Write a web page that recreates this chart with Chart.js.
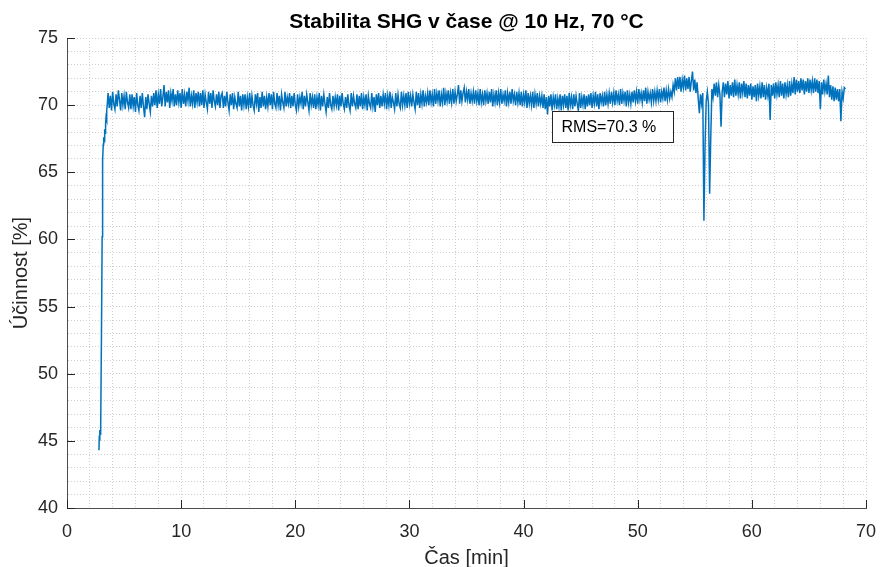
<!DOCTYPE html>
<html><head><meta charset="utf-8">
<script src="https://cdn.jsdelivr.net/npm/chart.js@4"></script>
<style>html,body{margin:0;padding:0;background:#fff}#wrap{width:880px;height:567px}</style>
</head><body><div id="wrap"><canvas id="c" width="880" height="567"></canvas></div>
<script>
const chartTitle = 'Stabilita SHG v čase @ 10 Hz, 70 °C';
const xTitle = 'Čas [min]';
const yTitle = 'Účinnost [%]';
const rmsLabel = 'RMS=70.3 %';
const xTickLabels = [0, 10, 20, 30, 40, 50, 60, 70];
const yTickLabels = [40, 45, 50, 55, 60, 65, 70, 75];

// start-up ramp (time in min, efficiency in %)
const startTime = [2.80, 2.83, 2.86, 2.89, 2.92, 2.95, 3.02, 3.08, 3.10, 3.14, 3.18, 3.22, 3.26, 3.30, 3.34, 3.38, 3.42, 3.46, 3.50, 3.54];
const startEff  = [44.3, 45.4, 45.0, 45.8, 45.5, 46.0, 53.0, 60.2, 60.7, 65.9, 67.1, 67.6, 67.3, 68.2, 67.9, 68.6, 69.1, 68.9, 69.6, 70.2];

// steady-state record, sampled every 0.1 min from 3.6 min
const sampleStart = 3.6;
const sampleStep = 0.1;
const efficiency = [
70.9,69.8,70.7,69.6,71.0,70.1,69.7,70.8,69.9,71.1,70.4,69.6,70.9,70.0,70.7,69.7,71.0,70.2,69.8,70.8,
69.7,70.8,69.9,70.6,69.5,70.9,70.0,69.6,70.7,69.8,70.9,69.9,69.1,70.6,69.7,70.8,70.1,69.5,70.7,69.9,
70.9,70.0,71.1,69.8,70.8,70.1,71.2,69.9,70.6,71.5,69.9,71.0,70.2,71.1,69.8,70.9,70.3,71.2,69.9,70.8,
70.0,71.1,70.2,70.9,69.8,71.2,70.1,70.8,69.9,71.0,70.3,71.3,69.9,70.7,70.1,71.1,69.8,70.9,70.2,71.0,
69.9,70.9,70.0,71.1,69.8,70.8,70.2,69.7,71.0,70.1,70.9,69.8,71.1,70.3,69.9,70.8,70.0,71.0,69.8,70.7,
70.9,69.8,70.7,69.9,71.0,70.2,69.6,70.8,70.0,70.9,69.7,70.6,70.1,69.8,71.0,69.9,70.7,69.6,70.8,70.0,
70.8,69.7,70.6,69.9,70.9,69.8,70.7,70.0,69.6,70.8,70.1,70.9,69.5,70.6,69.8,71.0,69.9,70.7,69.7,70.6,
69.9,70.9,70.0,70.8,69.7,71.0,70.1,69.8,70.9,70.0,70.7,69.6,70.8,70.2,69.8,71.0,69.9,70.6,70.1,70.9,
69.8,70.7,69.9,70.9,70.0,69.6,70.8,69.9,70.6,70.1,71.0,69.7,70.7,69.9,70.8,70.2,69.6,70.9,70.0,70.6,
69.8,70.8,69.7,70.6,70.0,70.9,69.6,70.7,69.9,70.8,70.1,69.5,70.6,69.8,70.9,70.0,69.7,70.7,69.9,70.6,
70.0,70.8,69.6,70.7,69.9,70.9,70.1,69.7,70.6,69.8,70.8,70.0,69.6,70.9,69.9,70.7,70.1,69.8,70.8,69.7,
70.7,69.9,70.9,69.7,70.6,70.0,70.8,69.6,70.7,70.1,69.8,70.9,69.9,70.6,69.5,70.8,70.0,70.9,69.8,70.7,
69.9,70.8,70.1,70.9,69.7,70.7,70.0,71.0,69.8,70.6,70.2,69.7,70.9,69.9,70.8,70.1,69.8,71.0,70.0,70.7,
70.0,70.9,69.8,71.0,70.1,70.7,69.9,70.8,70.2,69.7,71.0,70.0,70.9,69.8,70.8,70.1,71.1,69.9,70.7,70.2,
70.9,70.0,71.1,70.2,70.8,69.9,71.2,70.1,70.9,70.3,71.1,69.9,70.8,70.2,71.3,70.0,70.9,70.3,71.1,70.1,
70.9,70.2,71.2,70.1,71.0,70.3,70.8,71.5,70.1,71.1,70.3,70.9,71.3,70.2,71.0,70.4,71.2,70.1,70.9,70.3,
71.0,70.1,71.1,70.3,70.9,70.0,71.2,70.2,70.8,70.0,71.1,70.3,70.9,70.1,71.0,70.2,71.2,69.9,70.8,70.2,
71.1,70.0,70.9,70.2,71.2,70.1,70.8,70.3,71.1,69.9,70.9,70.2,71.0,70.1,71.2,70.3,70.8,70.0,71.0,70.2,
70.9,70.0,71.0,69.9,70.8,70.2,71.1,69.8,70.9,70.1,70.7,70.0,71.0,69.8,70.8,70.1,70.9,69.9,70.7,70.1,
70.7,69.8,70.8,69.7,70.6,69.3,70.7,69.9,70.8,69.6,70.6,70.0,70.8,69.7,70.5,69.9,70.8,69.6,70.7,70.0,
70.8,69.8,70.7,69.6,70.9,70.0,70.6,69.7,70.8,69.9,70.7,70.1,69.6,70.9,69.8,70.6,70.0,70.8,69.7,70.7,
69.9,70.8,70.0,70.9,69.8,70.7,70.1,71.0,69.9,70.8,69.7,70.9,70.2,70.7,69.9,71.0,70.0,70.8,70.1,70.9,
70.1,71.0,70.2,70.9,70.0,71.1,70.3,70.8,70.0,71.2,70.1,70.9,70.3,71.0,69.9,71.1,70.2,70.8,70.1,71.0,
70.2,71.1,70.3,71.0,70.1,71.2,70.4,70.9,70.2,71.1,70.3,71.3,70.1,71.0,70.4,70.9,70.2,71.2,70.3,71.0,
70.3,71.1,70.4,71.2,70.2,71.0,70.5,71.3,70.3,71.1,70.4,71.2,70.5,71.0,70.6,71.5,71.0,72.0,71.1,72.1,
71.2,72.1,71.0,71.9,71.3,72.2,71.1,72.0,71.2,72.1,71.0,71.8,72.5,71.1,71.9,70.9,71.7,70.5,69.4,70.8,
70.1,70.9,61.4,67.0,70.3,71.0,70.1,63.4,67.6,71.2,70.6,71.6,70.7,71.7,70.6,71.5,70.8,68.4,71.0,71.7,
70.6,71.6,70.8,71.8,70.5,71.5,70.7,71.7,70.6,71.9,70.7,71.5,70.8,71.7,70.5,71.6,70.9,71.8,70.6,71.6,
70.5,71.5,70.7,71.6,70.4,71.4,70.6,71.5,70.3,71.6,70.7,71.4,70.5,71.7,70.6,71.5,70.4,71.3,70.7,71.6,
68.9,71.5,70.7,71.6,70.5,71.7,70.8,71.5,70.6,71.8,70.7,71.6,70.5,71.7,70.8,71.5,70.6,71.8,70.7,71.6,
70.9,72.1,70.8,71.9,71.0,71.8,70.9,72.0,71.1,71.9,70.8,71.8,71.0,72.0,70.9,71.9,71.1,71.8,70.9,72.0,
71.0,71.9,70.9,71.8,69.7,71.7,70.8,71.9,71.0,71.6,70.8,72.2,70.6,71.5,70.4,71.4,70.3,71.3,70.4,71.2,
70.3,71.2,68.8,71.0,70.5,71.3,71.2
];

// text box corners in data units (min, %)
const rmsBoxMin = [42.5, 67.25];
const rmsBoxMax = [53.1, 69.55];

const FONT = '"Liberation Sans", Arial, Helvetica, sans-serif';
const AX = '#262626';

const points = startTime.map((t, i) => ({x: t, y: startEff[i]}))
  .concat(efficiency.map((v, i) => ({x: Math.round((sampleStart + i * sampleStep) * 100) / 100, y: v})));

const decor = {
  id: 'decor',
  afterDraw(chart) {
    const {ctx, chartArea: a, scales: {x, y}} = chart;
    ctx.save();
    // inward major ticks
    ctx.strokeStyle = AX; ctx.lineWidth = 1;
    ctx.beginPath();
    xTickLabels.forEach(v => { const px = Math.round(x.getPixelForValue(v)) + 0.5; ctx.moveTo(px, a.bottom); ctx.lineTo(px, a.bottom - 8); });
    yTickLabels.forEach(v => { const py = Math.round(y.getPixelForValue(v)) + 0.5; ctx.moveTo(a.left, py); ctx.lineTo(a.left + 8, py); });
    ctx.stroke();
    // RMS text box
    const bx0 = Math.round(x.getPixelForValue(rmsBoxMin[0])) + 0.5;
    const bx1 = Math.round(x.getPixelForValue(rmsBoxMax[0])) + 0.5;
    const by0 = Math.round(y.getPixelForValue(rmsBoxMax[1])) + 0.5;
    const by1 = Math.round(y.getPixelForValue(rmsBoxMin[1])) + 0.5;
    ctx.fillStyle = '#fff';
    ctx.fillRect(bx0, by0, bx1 - bx0, by1 - by0);
    ctx.strokeStyle = AX; ctx.lineWidth = 1;
    ctx.strokeRect(bx0, by0, bx1 - bx0, by1 - by0);
    ctx.fillStyle = '#000';
    ctx.font = '16px ' + FONT;
    ctx.textAlign = 'left'; ctx.textBaseline = 'middle';
    ctx.fillText(rmsLabel, bx0 + 9, (by0 + by1) / 2 + 1);
    // title
    ctx.font = 'bold 21px ' + FONT;
    ctx.textAlign = 'center';
    ctx.fillStyle = '#000';
    ctx.fillText(chartTitle, (a.left + a.right) / 2, 22);
    ctx.restore();
  }
};

const gridColor = c => '#cfcfcf';

new Chart(document.getElementById('c'), {
  type: 'line',
  data: {
    datasets: [{
      data: points,
      borderColor: '#0072BD',
      borderWidth: 1.5,
      pointRadius: 0,
      fill: false,
      tension: 0
    }]
  },
  options: {
    responsive: false,
    animation: false,
    devicePixelRatio: 1,
    normalized: true,
    layout: {padding: {left: 0, right: 14, top: 38, bottom: 0}},
    plugins: {legend: {display: false}, tooltip: {enabled: false}, title: {display: false}},
    scales: {
      x: {
        type: 'linear', min: 0, max: 70,
        afterFit: s => { s.height = 59; s.paddingLeft = 0; s.paddingRight = 0; },
        ticks: {
          stepSize: 2, maxTicksLimit: 100, autoSkip: false, maxRotation: 0, minRotation: 0,
          padding: 13, color: AX, font: {family: FONT, size: 18},
          callback: v => (xTickLabels.includes(v) ? String(v) : '')
        },
        grid: {color: gridColor, lineWidth: 1, drawTicks: false},
        border: {display: true, color: '#4d4d4d', width: 1, dash: [1, 2]},
        title: {display: true, text: xTitle, color: AX, font: {family: FONT, size: 20, lineHeight: 1}, padding: {top: 0, bottom: -1}}
      },
      y: {
        type: 'linear', min: 40, max: 75,
        afterFit: s => { s.width = 67; s.paddingTop = 0; s.paddingBottom = 0; },
        ticks: {
          stepSize: 1, maxTicksLimit: 100, autoSkip: false,
          padding: 9, color: AX, font: {family: FONT, size: 18},
          callback: v => (yTickLabels.includes(v) ? String(v) : '')
        },
        grid: {color: gridColor, lineWidth: 1, drawTicks: false},
        border: {display: true, color: '#4d4d4d', width: 1, dash: [1, 2]},
        title: {display: true, text: yTitle, color: AX, font: {family: FONT, size: 20, lineHeight: 1.2}, padding: {top: 9, bottom: 0}}
      }
    }
  },
  plugins: [decor]
});
</script>
</body></html>
